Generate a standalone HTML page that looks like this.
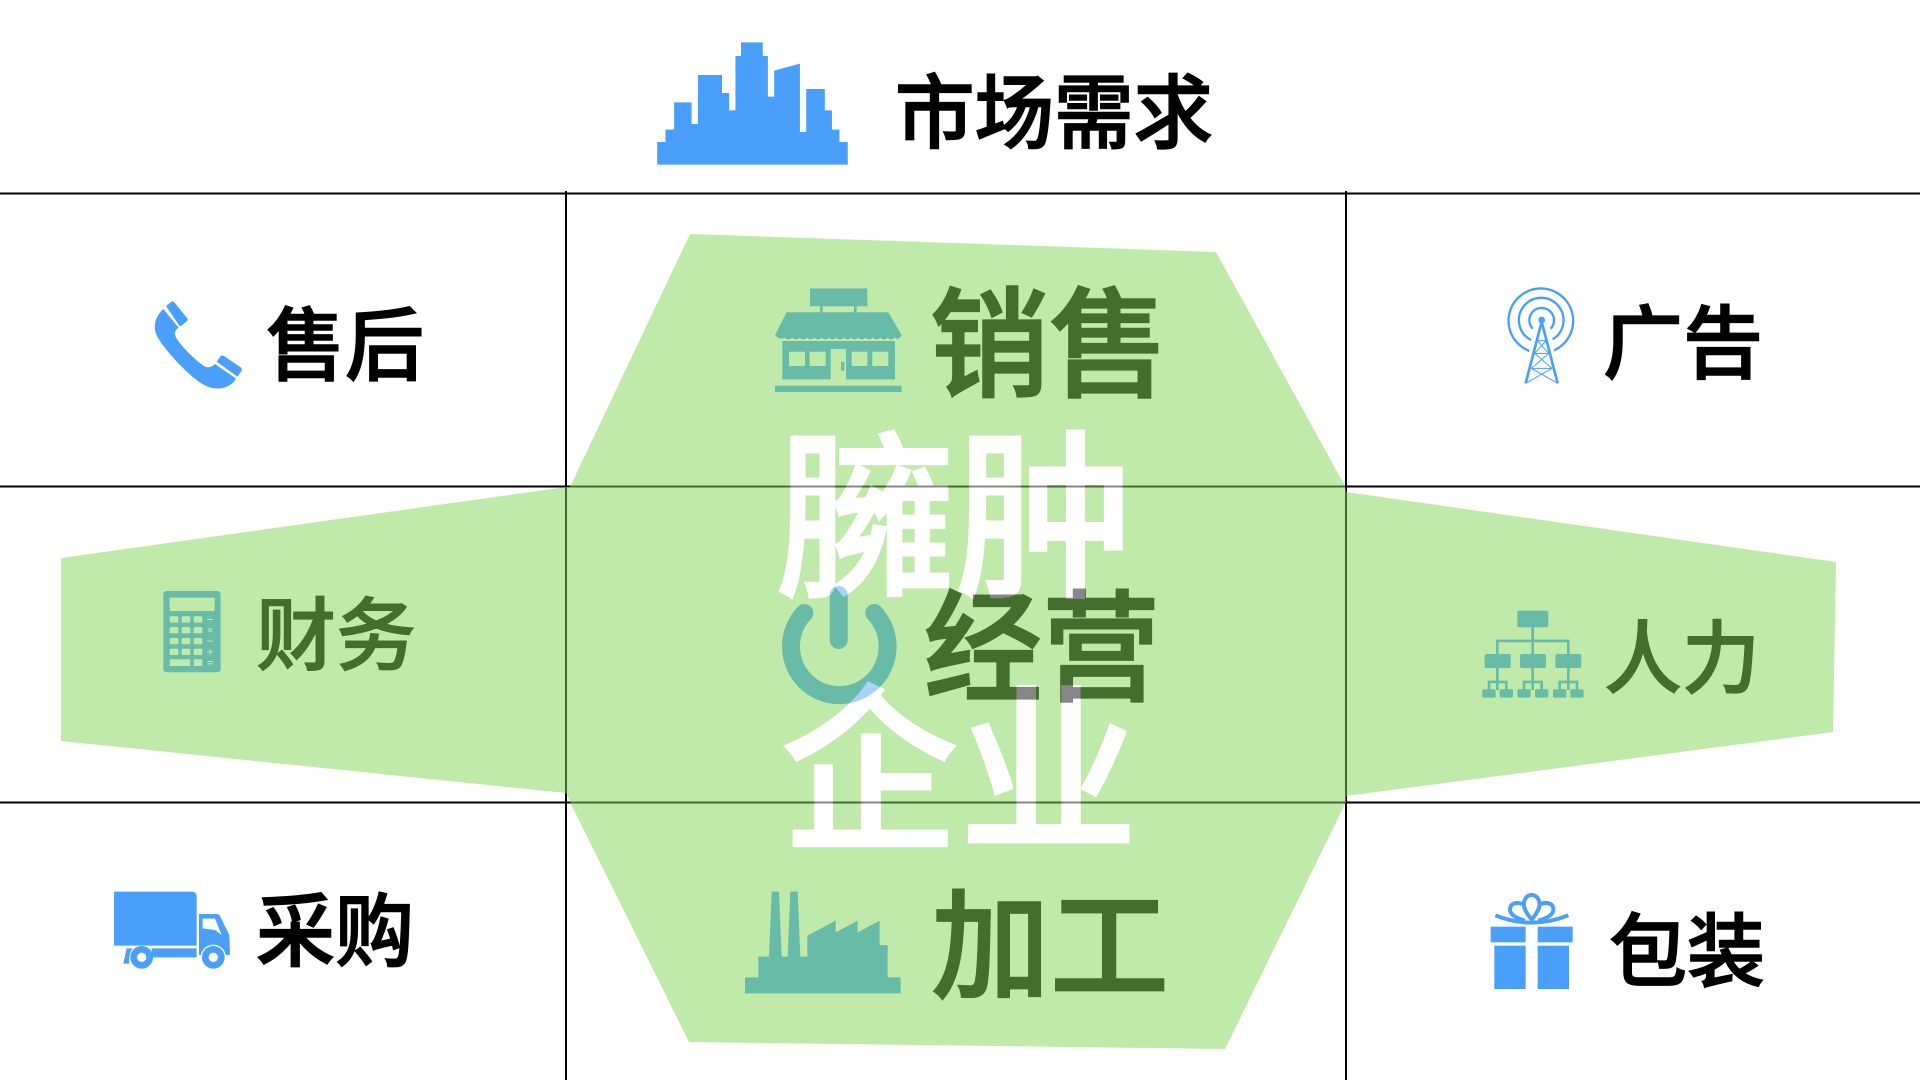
<!DOCTYPE html>
<html lang="zh"><head><meta charset="utf-8"><title>臃肿企业</title>
<style>html,body{margin:0;padding:0;background:#fff;width:1920px;height:1080px;overflow:hidden}svg{display:block}
text{font-family:"Liberation Sans","Noto Sans CJK SC",sans-serif;font-size:100px}</style></head><body>
<svg width="1920" height="1080" viewBox="0 0 1920 1080" xmlns="http://www.w3.org/2000/svg">
<defs>
<mask id="m" maskUnits="userSpaceOnUse" x="0" y="0" width="1920" height="1080">
<rect width="1920" height="1080" fill="#fff"/>
<g fill="#000" stroke="#000" stroke-width="1.2" font-weight="500">
<text transform="translate(776,583) scale(1.79,1.81)">臃肿</text>
<text transform="translate(780,836) scale(1.79,1.8)">企业</text>
</g>
</mask>
</defs>
<rect width="1920" height="1080" fill="#fff"/>
<g stroke="#000" stroke-width="2" fill="none">
<path d="M0 193.5H1920M0 486.5H1920M0 802.5H1920M566 191V1080M1346 191V1080"/>
</g>

<!-- city -->
<g transform="translate(620,20) scale(.3954,.3333)" fill="#4a9ffa"><polygon points="94,434 94,366 115,366 115,329 137,329 137,247 181,247 181,312 197,312 197,165 258,165 258,219 276,219 276,271 292,271 292,108 306,108 306,67 361,67 361,108 374,108 374,230 390,230 390,152 455,131 455,336 471,336 471,207 518,207 518,271 536,271 536,329 555,329 555,366 576,366 576,434"/></g>

<!-- phone -->
<g transform="translate(100,280) scale(.3333)" fill="#4a9ffa">
<path d="M190,87 C170,105 160,130 166,155 C175,190 250,270 290,300 C315,320 345,332 375,322 C392,316 402,307 408,296 L345,252 C335,262 325,265 312,258 C285,240 240,195 228,172 C222,160 225,150 236,143 Z"/>
<path d="M198,78 L215,65 Q220,63 224,68 L262,115 Q265,120 260,124 L240,140 Z"/>
<path d="M350,245 L362,228 Q366,225 372,228 L422,262 Q428,268 424,274 L412,290 Z"/>
</g>

<!-- tower -->
<g transform="translate(1460,270) scale(.3333)" fill="none" stroke="#4a9ffa">
<path stroke-width="7" d="M208,243 A97,97 0 1 1 282,241 M213,210 A67,67 0 1 1 278,208 M218,176 A37,37 0 1 1 272,176"/>
<path stroke-width="8" d="M245,155 L197,340 M245,155 L293,340"/>
<path stroke-width="3" d="M232,212 H258 M224,250 H266 M214,295 H276 M232,212 L266,250 M258,212 L224,250 M224,250 L276,295 M266,250 L214,295 M214,295 L293,340 M276,295 L197,340"/>
<circle cx="245" cy="150" r="10" fill="#4a9ffa" stroke="none"/>
</g>

<!-- shop -->
<g transform="translate(740,260) scale(.3333,.3954)" fill="#4a9ffa">
<rect x="210" y="72" width="172" height="45"/>
<rect x="240" y="115" width="8" height="20"/><rect x="342" y="115" width="8" height="20"/>
<path d="M140,132 H445 L485,190 Q476,204 464,196 Q455,206 443,196 Q432,206 421,196 Q410,206 399,196 Q388,206 377,196 Q366,206 355,196 Q344,206 333,196 Q322,206 311,196 Q300,206 289,196 Q278,206 267,196 Q256,206 245,196 Q234,206 223,196 Q212,206 201,196 Q190,206 179,196 Q168,206 157,196 Q146,206 135,196 Q120,204 105,190 Z"/>
<path fill-rule="evenodd" d="M127,205 H465 V302 H127 Z M147,232 V268 H195 V232 Z M209,232 V268 H257 V232 Z M335,232 V268 H382 V232 Z M397,232 V268 H445 V232 Z"/>
<rect x="272" y="225" width="46" height="80" fill="#fff"/>
<rect x="303" y="258" width="10" height="22"/>
<rect x="105" y="318" width="380" height="16"/>
</g>

<!-- calculator -->
<g transform="translate(100,280) scale(.3333)">
<rect x="190" y="933" width="172" height="244" rx="10" fill="#4a9ffa"/>
<g fill="#fff"><rect x="209" y="953" width="135" height="40" rx="2"/>
<rect x="209" y="1009" width="26" height="19" rx="4"/><rect x="245" y="1009" width="26" height="19" rx="4"/><rect x="281" y="1009" width="26" height="19" rx="4"/>
<rect x="209" y="1041" width="26" height="19" rx="4"/><rect x="245" y="1041" width="26" height="19" rx="4"/><rect x="281" y="1041" width="26" height="19" rx="4"/>
<rect x="209" y="1074" width="26" height="19" rx="4"/><rect x="245" y="1074" width="26" height="19" rx="4"/><rect x="281" y="1074" width="26" height="19" rx="4"/>
<rect x="209" y="1106" width="26" height="19" rx="4"/><rect x="245" y="1106" width="26" height="19" rx="4"/><rect x="281" y="1106" width="26" height="19" rx="4"/>
<rect x="209" y="1138" width="62" height="20" rx="4"/><rect x="281" y="1138" width="26" height="20" rx="4"/>
<rect x="322" y="1017" width="17" height="3"/><rect x="329" y="1010" width="3" height="3"/><rect x="329" y="1024" width="3" height="3"/>
<path d="M324,1045 L337,1057 M337,1045 L324,1057" stroke="#fff" stroke-width="3"/>
<rect x="322" y="1082" width="17" height="3"/>
<rect x="322" y="1114" width="17" height="3"/><rect x="329" y="1107" width="3" height="17"/>
<rect x="322" y="1143" width="17" height="3"/><rect x="322" y="1150" width="17" height="3"/></g>
</g>

<!-- power -->
<g fill="none" stroke="#4a9ffa" stroke-linecap="round">
<path stroke-width="18" d="M804.3,613 A48.3,48.6 0 1 0 874.3,613"/><path stroke-width="18" d="M838.7,595 V640"/>
</g>

<!-- org -->
<g transform="translate(1460,270) scale(.3333)" fill="#4a9ffa">
<g fill="none" stroke="#4a9ffa" stroke-width="8"><path d="M218,1070 V1155 M112,1155 V1113 H325 V1155 M112,1190 V1260 M218,1190 V1260 M325,1190 V1260 M87,1260 V1236 H139 V1260 M192,1260 V1236 H245 V1260 M299,1260 V1236 H351 V1260"/></g>
<rect x="172" y="1022" width="93" height="50" rx="6"/>
<rect x="74" y="1152" width="78" height="42" rx="6"/><rect x="180" y="1152" width="78" height="42" rx="6"/><rect x="286" y="1152" width="78" height="42" rx="6"/>
<rect x="67" y="1258" width="40" height="25" rx="4"/><rect x="119" y="1258" width="40" height="25" rx="4"/><rect x="172" y="1258" width="40" height="25" rx="4"/><rect x="225" y="1258" width="40" height="25" rx="4"/><rect x="279" y="1258" width="40" height="25" rx="4"/><rect x="331" y="1258" width="40" height="25" rx="4"/>
</g>

<!-- truck -->
<g transform="translate(100,860) scale(.3333)" fill="#4a9ffa">
<path d="M42,95 H275 Q290,95 290,110 V257 H42 Z"/>
<path d="M155,265 H290 V292 H155 Z"/>
<path d="M80,265 H97 Q85,285 88,311 H70 Z"/>
<path fill-rule="evenodd" d="M297,162 H350 Q358,162 362,172 L388,225 L390,280 Q390,285 385,285 H297 Z M308,176 V205 L345,210 L365,225 L345,176 Z"/>
<circle cx="125" cy="292" r="33" fill="#fff"/><circle cx="125" cy="292" r="24" fill="none" stroke="#4a9ffa" stroke-width="20"/>
<circle cx="340" cy="292" r="38" fill="#fff"/><circle cx="340" cy="292" r="24" fill="none" stroke="#4a9ffa" stroke-width="20"/>
</g>

<!-- factory -->
<g transform="translate(730,870) scale(.3333)" fill="#4a9ffa">
<polygon points="45,370 45,322 85,322 85,260 117,260 125,65 147,65 155,260 173,260 181,65 203,65 211,260 232,260 232,197 317,152 317,187 383,152 383,187 449,152 449,225 473,225 473,322 512,322 512,370"/>
</g>

<!-- gift -->
<g transform="translate(1480,880) scale(.3333)" fill="#4a9ffa">
<rect x="32" y="140" width="105" height="47"/><rect x="173" y="140" width="105" height="47"/>
<rect x="43" y="197" width="94" height="130"/><rect x="173" y="197" width="94" height="130"/>
<g fill="none" stroke="#4a9ffa" stroke-width="12"><path d="M46,106 Q155,150 265,106"/>
<path d="M155,118 C135,95 125,75 135,58 C145,40 165,40 175,58 C185,75 175,95 155,118 Z"/>
<path d="M135,122 C110,115 90,105 90,88 C90,70 110,65 126,72"/>
<path d="M175,122 C200,115 220,105 220,88 C220,70 200,65 184,72"/></g>
</g>

<!-- black text base -->
<g fill="#000" stroke="#000" stroke-width="1.8" font-weight="500">
<text transform="translate(895,142) scale(.795,.81)">市场需求</text>
<text transform="translate(266,374) scale(.79,.8)">售后</text>
<text transform="translate(1603,372) scale(.8,.8)">广告</text>
<text transform="translate(256,960) scale(.79,.8)">采购</text>
<text transform="translate(1609,980) scale(.78,.8)">包装</text>
<text transform="translate(930,387) scale(1.19,1.19)">销售</text>
<text transform="translate(924,691) scale(1.18,1.2)">经营</text>
</g>
<g fill="#000" stroke="#000" stroke-width="1.4" font-weight="500">
<text transform="translate(256,664) scale(.8,.8)">财务</text>
<text transform="translate(1604,687) scale(.78,.8)">人力</text>
<text transform="translate(931,989) scale(1.19,1.2)">加工</text>
</g>

<!-- overlay -->
<polygon mask="url(#m)" fill="#84d757" fill-opacity=".515" points="690,234 1216,252 1345,486 1346,492 1836,562 1833,732 1346,796 1346,802 1225,1049 689,1042 570,802 566,793 61,741 61,558 566,487 570,487"/>

<!-- white text -->
<g fill="#fff" stroke="#fff" stroke-width="1.2" opacity=".53" font-weight="500">
<text transform="translate(776,583) scale(1.79,1.81)">臃肿</text>
<text transform="translate(780,836) scale(1.79,1.8)">企业</text>
</g>
</svg>
</body></html>
